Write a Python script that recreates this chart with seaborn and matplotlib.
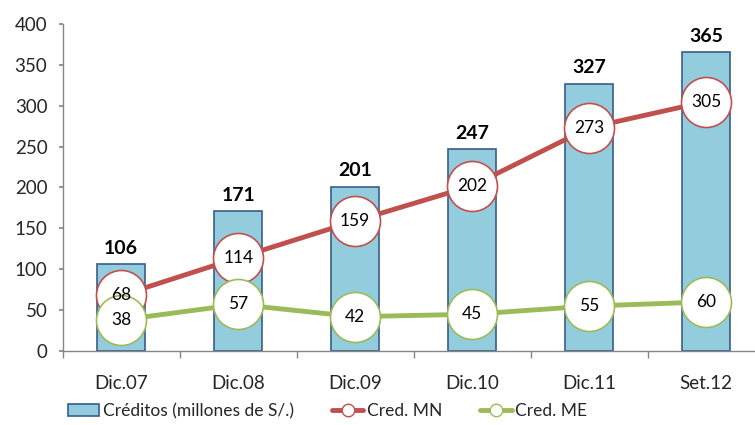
import numpy as np
import pandas as pd
import seaborn as sns
import matplotlib.pyplot as plt
from matplotlib.lines import Line2D
from matplotlib.patches import Patch

sns.set_theme(style="white")
plt.rcParams['font.family'] = ['Lato', 'DejaVu Sans']

periodos = ["Dic.07", "Dic.08", "Dic.09", "Dic.10", "Dic.11", "Set.12"]
creditos = [106, 171, 201, 247, 327, 365]
cred_mn = [68, 114, 159, 202, 273, 305]
cred_me = [38, 57, 42, 45, 55, 60]

df = pd.DataFrame({"periodo": periodos, "creditos": creditos,
                   "mn": cred_mn, "me": cred_me})
df["pos"] = np.arange(len(df))

fig = plt.figure(figsize=(7.55, 4.25), dpi=100)
# the plot area runs a little past the right edge, as in the original
ax = fig.add_axes([0.083, 0.174, 0.93, 0.77])

sns.barplot(data=df, x="periodo", y="creditos", color="#93CDDD",
            saturation=1, width=0.41, edgecolor="#385D8A", linewidth=1.2,
            ax=ax, zorder=2)

red = "#C0504D"
green = "#9BBB59"
sns.lineplot(data=df, x="pos", y="mn", color=red, linewidth=3.5, marker="o",
             markersize=36, markerfacecolor="white", markeredgecolor=red,
             markeredgewidth=1.2, ax=ax, zorder=3)
sns.lineplot(data=df, x="pos", y="me", color=green, linewidth=3.5, marker="o",
             markersize=36, markerfacecolor="white", markeredgecolor=green,
             markeredgewidth=1.2, ax=ax, zorder=4)

for i, row in df.iterrows():
    ax.text(row["pos"], row["creditos"] + 9, str(row["creditos"]), ha="center",
            va="bottom", fontsize=14, fontweight="bold", color="black")
    ax.text(row["pos"], row["mn"], str(row["mn"]), ha="center", va="center",
            fontsize=12.5, color="black", zorder=5)
    ax.text(row["pos"], row["me"], str(row["me"]), ha="center", va="center",
            fontsize=12.5, color="black", zorder=6)

ax.set_xlim(-0.5, 5.5)
ax.set_ylim(0, 400)
ax.set_yticks(range(0, 401, 50))
ax.set_xlabel("")
ax.set_ylabel("")
ax.tick_params(axis="y", labelsize=13.5, length=3, color="#868686", left=True,
               direction="out", pad=8)
ax.tick_params(axis="x", which="major", labelsize=13.5, length=0, pad=17)
ax.set_xticks(np.arange(-0.5, 6, 1), minor=True)
ax.tick_params(axis="x", which="minor", length=5, color="#868686",
               bottom=True, direction="out")
for s in ["top", "right"]:
    ax.spines[s].set_visible(False)
for s in ["left", "bottom"]:
    ax.spines[s].set_color("#868686")
    ax.spines[s].set_linewidth(1)

handles = [
    Patch(facecolor="#93CDDD", edgecolor="#385D8A", linewidth=1.2),
    Line2D([], [], color=red, linewidth=3.5, marker="o", markersize=9,
           markerfacecolor="white", markeredgecolor=red),
    Line2D([], [], color=green, linewidth=3.5, marker="o", markersize=9,
           markerfacecolor="white", markeredgecolor=green),
]
labels = ["Créditos (millones de S/.)", "Cred. MN", "Cred. ME"]
fig.legend(handles, labels, loc="center", bbox_to_anchor=(0.434, 0.033),
           ncol=3, frameon=False, fontsize=12.5, handlelength=1.8,
           handletextpad=0.2, columnspacing=2.2)

fig.savefig("out.png", dpi=100)
